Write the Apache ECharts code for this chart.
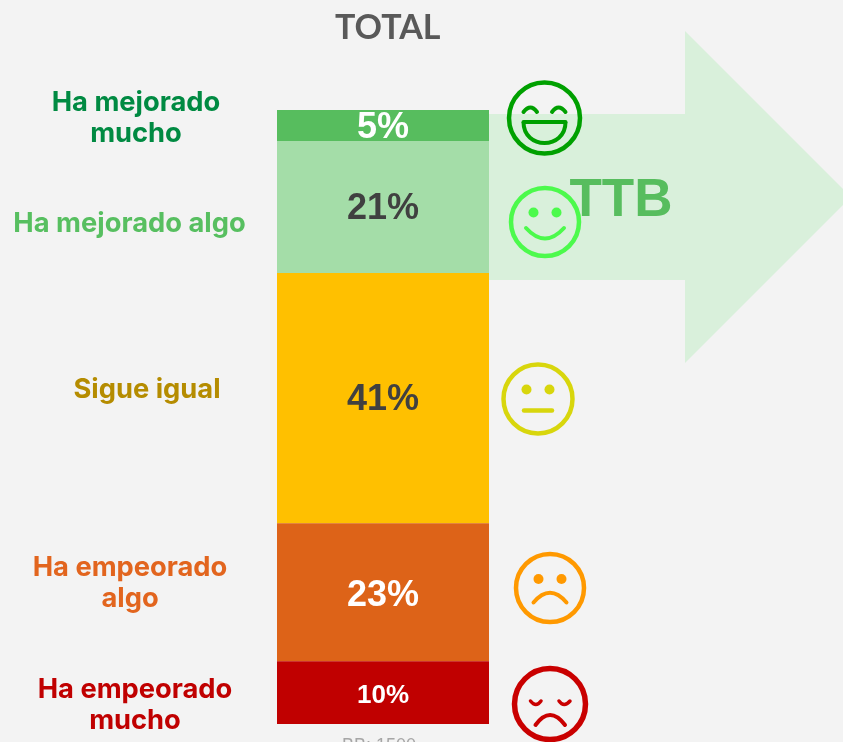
<!DOCTYPE html>
<html>
<head>
<meta charset="utf-8">
<title>TOTAL</title>
<style>
  html, body { margin: 0; padding: 0; background: #f3f3f3; overflow: hidden; }
  #chart { width: 843px; height: 742px; }
</style>
<script src="https://cdn.jsdelivr.net/npm/echarts@6/dist/echarts.min.js"></script>
</head>
<body>
<div id="chart"></div>
<script>
// top to bottom, same order as the stack
const categories = ["Ha mejorado\nmucho", "Ha mejorado algo", "Sigue igual", "Ha empeorado\nalgo", "Ha empeorado\nmucho"];
const values = [5.05, 21.5, 40.75, 22.5, 10.2];
const valueLabels = ["5%", "21%", "41%", "23%", "10%"];
const chartTitle = "TOTAL";
const baseNote = "BB: 1500";
const arrowLabel = "TTB";

const barColors = ["#57bd5e", "#a4dda8", "#ffc000", "#dd6318", "#c00000"];
const labelColors = ["#ffffff", "#404040", "#404040", "#ffffff", "#ffffff"];
const labelSizes = [36, 36, 36, 36, 26];
const labelOffsets = [[0, 3], [0, 2], [0, 2], [0, 4], [0, 3]];
const nameColors = ["#008a42", "#57bf60", "#b58c00", "#e2651e", "#c00000"];
const namePos = [[136, 118], [129.5, 224], [147, 390], [130, 583], [135, 705]];
const headFont = "Inter, sans-serif";
const titleFont = "Lato, sans-serif";
const numFont = '"Liberation Sans", Arial, sans-serif';

// small helpers for the smiley outlines
function ring(r, w, c) {
  return { type: "circle", shape: { cx: 0, cy: 0, r: r }, style: { fill: "none", stroke: c, lineWidth: w } };
}
function dot(x, y, r, c) {
  return { type: "circle", shape: { cx: x, cy: y, r: r }, style: { fill: c } };
}
function curve(x1, y1, cx, cy, x2, y2, w, c) {
  return {
    type: "bezierCurve",
    shape: { x1: x1, y1: y1, x2: x2, y2: y2, cpx1: cx, cpy1: cy },
    style: { fill: "none", stroke: c, lineWidth: w, lineCap: "round" }
  };
}
function seg(x1, y1, x2, y2, w, c) {
  return {
    type: "line",
    shape: { x1: x1, y1: y1, x2: x2, y2: y2 },
    style: { stroke: c, lineWidth: w, lineCap: "round" }
  };
}
function face(x, y, parts) {
  return { type: "group", x: x, y: y, children: parts };
}

const green = "#00a000", lime = "#4cfa4c", yellow = "#d8d60c", orange = "#ff9900", red = "#c90000";

const faces = [
  face(544.5, 118, [
    ring(35.5, 4.5, green),
    curve(-21, -6, -14, -15, -7.5, -6, 4, green),
    curve(7.5, -6, 14, -15, 21, -6, 4, green),
    seg(-21, 4, 21, 4, 4, green),
    {
      type: "bezierCurve",
      shape: { x1: -21, y1: 4, x2: 21, y2: 4, cpx1: -21, cpy1: 32, cpx2: 21, cpy2: 32 },
      style: { fill: "none", stroke: green, lineWidth: 4 }
    }
  ]),
  face(545, 222, [
    ring(34, 4.5, lime),
    dot(-11.5, -9.5, 5, lime), dot(11.5, -9.5, 5, lime),
    curve(-19, 6, 0, 27, 19, 6, 4, lime)
  ]),
  face(538, 399, [
    ring(34.5, 4.5, yellow),
    dot(-11.5, -9.5, 5, yellow), dot(11.5, -9.5, 5, yellow),
    seg(-14, 11.5, 14, 11.5, 4.5, yellow)
  ]),
  face(550, 588, [
    ring(34, 4.5, orange),
    dot(-11.5, -9, 5, orange), dot(11.5, -9, 5, orange),
    curve(-16.5, 14.5, 0, -5, 16.5, 14.5, 4, orange)
  ]),
  face(550, 704, [
    ring(35.5, 5.5, red),
    curve(-19.5, -3, -14, 4, -9, -3, 3.5, red),
    curve(9, -3, 14, 4, 20, -3, 3.5, red),
    curve(-14.5, 21, 0, 1, 15, 21, 4, red)
  ])
];

const nameTexts = categories.map(function (name, i) {
  return {
    type: "text",
    x: namePos[i][0],
    y: namePos[i][1],
    style: {
      text: name,
      fill: nameColors[i],
      font: "bold 27.3px " + headFont,
      lineHeight: 31,
      align: "center",
      verticalAlign: "middle"
    }
  };
});

const chart = echarts.init(document.getElementById("chart"));
chart.setOption({
  animation: false,
  backgroundColor: "#f3f3f3",
  title: {
    text: chartTitle,
    left: 330,
    top: 6,
    textStyle: { color: "#595959", fontFamily: titleFont, fontWeight: "bold", fontSize: 34 }
  },
  grid: { left: 277, top: 110, width: 212, height: 614 },
  xAxis: { type: "category", data: [chartTitle], show: false },
  yAxis: { type: "value", min: 0, max: 100, inverse: true, show: false },
  series: categories.map(function (name, i) {
    return {
      name: name,
      type: "bar",
      stack: "total",
      barWidth: "100%",
      data: [values[i]],
      itemStyle: { color: barColors[i] },
      label: {
        show: true,
        position: "inside",
        offset: labelOffsets[i],
        formatter: valueLabels[i],
        color: labelColors[i],
        fontFamily: numFont,
        fontWeight: "bold",
        fontSize: labelSizes[i]
      }
    };
  }),
  graphic: [
    {
      type: "polygon",
      shape: { points: [[489, 114], [685, 114], [685, 31], [851, 197], [685, 363], [685, 280], [489, 280]] },
      style: { fill: "#d9f0db" }
    },
    {
      type: "text",
      x: 621,
      y: 201,
      style: {
        text: arrowLabel,
        fill: "#57bd5e",
        font: "bold 53px " + numFont,
        align: "center",
        verticalAlign: "middle"
      }
    },
    {
      type: "text",
      x: 379,
      y: 746,
      style: {
        text: baseNote,
        fill: "#a6a6a6",
        font: "18px " + numFont,
        align: "center",
        verticalAlign: "middle"
      }
    }
  ].concat(nameTexts, faces)
});
</script>
</body>
</html>
